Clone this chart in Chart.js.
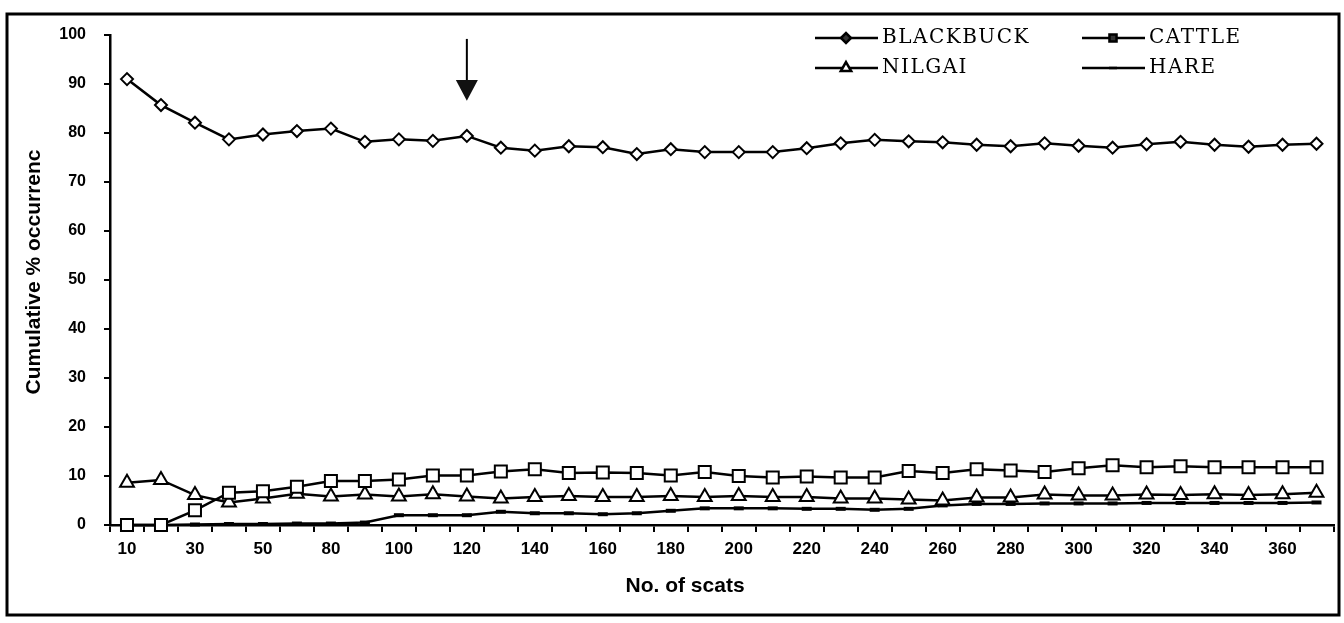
<!DOCTYPE html>
<html>
<head>
<meta charset="utf-8">
<script src="https://cdn.jsdelivr.net/npm/chart.js@4.4.1/dist/chart.umd.min.js"></script>
<style>
  html, body { margin: 0; padding: 0; background: #fff; }
  #wrap { width: 1344px; height: 623px; position: relative; }
</style>
</head>
<body>
<div id="wrap"><canvas id="scats"></canvas></div>
<script>
// Anzahl Kotproben (Kategorien) - Beschriftung wie im Original
const scatLabels = ['10','20','30','40','50','60','80','90','100','110','120','130','140','150','160','170','180','190','200','210','220','230','240','250','260','270','280','290','300','310','320','330','340','350','360','370'];

// kumulativer Anteil in %
const blackbuck = [91.0, 85.7, 82.1, 78.7, 79.7, 80.4, 80.9, 78.2, 78.7, 78.4, 79.4, 77.0, 76.4, 77.3, 77.1, 75.7, 76.7, 76.1, 76.1, 76.1, 76.9, 77.9, 78.6, 78.3, 78.1, 77.6, 77.3, 77.9, 77.4, 77.0, 77.7, 78.2, 77.6, 77.2, 77.6, 77.8];
const cattle    = [0, 0, 3.0, 6.6, 6.9, 7.8, 9.0, 9.0, 9.3, 10.1, 10.1, 10.9, 11.4, 10.6, 10.7, 10.6, 10.1, 10.8, 10.0, 9.7, 9.9, 9.7, 9.7, 11.0, 10.6, 11.4, 11.1, 10.8, 11.6, 12.2, 11.8, 12.0, 11.8, 11.8, 11.8, 11.8];
const nilgai    = [8.6, 9.2, 6.1, 4.6, 5.4, 6.4, 5.8, 6.2, 5.8, 6.3, 5.8, 5.4, 5.7, 5.9, 5.7, 5.7, 5.9, 5.7, 5.9, 5.7, 5.7, 5.4, 5.4, 5.2, 5.0, 5.6, 5.6, 6.2, 6.0, 6.0, 6.2, 6.1, 6.3, 6.1, 6.3, 6.6];
const hare      = [0, 0, 0.1, 0.2, 0.2, 0.3, 0.3, 0.5, 2.0, 2.0, 2.0, 2.7, 2.4, 2.4, 2.2, 2.4, 2.9, 3.4, 3.4, 3.4, 3.3, 3.3, 3.1, 3.3, 4.0, 4.3, 4.3, 4.4, 4.4, 4.4, 4.5, 4.5, 4.5, 4.5, 4.5, 4.6];

// Pfeil zeigt auf diese Kategorie
const arrowIndex = 10;

const seriesNames = ['BLACKBUCK', 'CATTLE', 'NILGAI', 'HARE'];

// Legende, Pfeil, Achsentitel und Rahmen selbst zeichnen
const extrasPlugin = {
    id: 'extras',
    afterDatasetsDraw(chart) {
        const ctx = chart.ctx;
        const xs = chart.scales.x;
        const ys = chart.scales.y;
        ctx.save();

        // Pfeil
        const ax = xs.getPixelForValue(arrowIndex);
        const aTop = ys.getPixelForValue(99.2);
        const aHead = ys.getPixelForValue(90.8);
        const aTip = ys.getPixelForValue(86.6);
        ctx.strokeStyle = '#000';
        ctx.fillStyle = '#111';
        ctx.lineWidth = 2;
        ctx.beginPath();
        ctx.moveTo(ax, aTop);
        ctx.lineTo(ax, aHead);
        ctx.stroke();
        ctx.beginPath();
        ctx.moveTo(ax - 11, aHead);
        ctx.lineTo(ax + 11, aHead);
        ctx.lineTo(ax, aTip);
        ctx.closePath();
        ctx.fill();

        // Legende (2 Spalten)
        const cols = [815, 1082];
        const rows = [38, 68];
        chart.data.datasets.forEach((ds, i) => {
            const x0 = cols[i % 2];
            const y0 = rows[Math.floor(i / 2)];
            ctx.strokeStyle = '#000';
            ctx.lineWidth = 2.5;
            ctx.beginPath();
            ctx.moveTo(x0, y0);
            ctx.lineTo(x0 + 63, y0);
            ctx.stroke();
            // kleine Marker: Raute und Quadrat gefüllt, Dreieck leer
            ctx.fillStyle = (ds.pointStyle === 'rectRot' || ds.pointStyle === 'rect') ? '#333' : '#fff';
            Chart.helpers.drawPoint(ctx, {
                pointStyle: ds.pointStyle,
                radius: ds.pointStyle === 'line' ? 4 : (ds.pointStyle === 'triangle' ? 6 : 5),
                borderWidth: ds.pointStyle === 'line' ? 4 : 2
            }, x0 + 31, y0);
            ctx.fillStyle = '#000';
            ctx.font = '20px "DejaVu Serif", "Liberation Serif", serif';
            ctx.letterSpacing = '1.5px';
            ctx.textBaseline = 'middle';
            ctx.textAlign = 'left';
            ctx.fillText(ds.label, x0 + 67, y0);
        });
        ctx.letterSpacing = '0px';

        // Achsentitel
        ctx.fillStyle = '#000';
        ctx.textAlign = 'center';
        ctx.textBaseline = 'middle';
        ctx.font = 'bold 21px "Liberation Sans", Arial, sans-serif';
        ctx.fillText('No. of scats', chart.chartArea.left + chart.chartArea.width * 0.47, 586);
        ctx.save();
        ctx.translate(34, (chart.chartArea.top + chart.chartArea.bottom) / 2 - 8);
        ctx.rotate(-Math.PI / 2);
        ctx.fillText('Cumulative % occurrenc', 0, 0);
        ctx.restore();

        // Rahmen
        ctx.strokeStyle = '#000';
        ctx.lineWidth = 3;
        ctx.strokeRect(7, 14, 1332, 601);
        ctx.restore();
    }
};

const common = {
    borderColor: '#000',
    pointBorderColor: '#000',
    pointBackgroundColor: '#fff',
    tension: 0,
    fill: false,
    clip: false
};

new Chart(document.getElementById('scats'), {
    type: 'line',
    data: {
        labels: scatLabels,
        datasets: [
            Object.assign({label: seriesNames[0], data: blackbuck, borderWidth: 2.5, pointStyle: 'rectRot', pointRadius: 6, pointBorderWidth: 2}, common),
            Object.assign({label: seriesNames[1], data: cattle, borderWidth: 2.5, pointStyle: 'rect', pointRadius: 8.5, pointBorderWidth: 2}, common),
            Object.assign({label: seriesNames[2], data: nilgai, borderWidth: 2.5, pointStyle: 'triangle', pointRadius: 8, pointBorderWidth: 2}, common),
            Object.assign({label: seriesNames[3], data: hare, borderWidth: 2.5, pointStyle: 'line', pointRadius: 5, pointBorderWidth: 4}, common)
        ]
    },
    options: {
        responsive: true,
        maintainAspectRatio: false,
        animation: false,
        events: [],
        layout: { padding: { left: 0, right: 7, top: 35, bottom: 0 } },
        scales: {
            x: {
                type: 'category',
                offset: true,
                grid: { offset: true, drawOnChartArea: false, drawTicks: true, tickLength: 7, color: '#000', lineWidth: 2 },
                border: { display: true, color: '#000', width: 2.5 },
                ticks: {
                    autoSkip: false,
                    maxRotation: 0,
                    padding: 7,
                    color: '#000',
                    font: { family: '"Liberation Sans", Arial, sans-serif', size: 17, weight: 'bold' },
                    callback: function(value, index) {
                        return index % 2 === 0 ? this.getLabelForValue(value) : '';
                    }
                },
                afterFit(scale) { scale.height = 98; }
            },
            y: {
                min: 0,
                max: 100,
                grid: { drawOnChartArea: false, drawTicks: true, tickLength: 6, color: '#000', lineWidth: 2 },
                border: { display: true, color: '#000', width: 2.5 },
                ticks: {
                    stepSize: 10,
                    padding: 18,
                    color: '#000',
                    font: { family: '"Liberation Sans", Arial, sans-serif', size: 16, weight: 'bold' }
                },
                afterFit(scale) { scale.width = 110; }
            }
        },
        plugins: {
            legend: { display: false },
            tooltip: { enabled: false }
        }
    },
    plugins: [extrasPlugin]
});
</script>
</body>
</html>
